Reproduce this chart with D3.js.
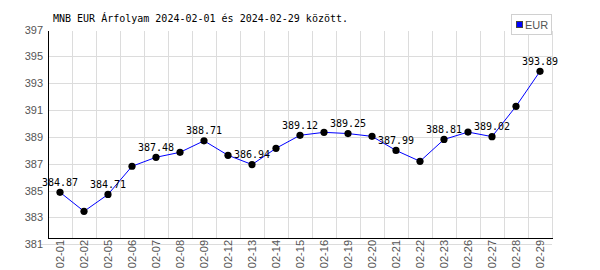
<!DOCTYPE html>
<html><head><meta charset="utf-8">
<script src="https://cdn.jsdelivr.net/npm/d3@7"></script>
<style>
html,body{margin:0;padding:0;background:#fff;}
svg{display:block;}
</style></head>
<body>
<script>
const dates = ["02-01","02-02","02-05","02-06","02-07","02-08","02-09","02-12","02-13","02-14","02-15","02-16","02-19","02-20","02-21","02-22","02-23","02-26","02-27","02-28","02-29"];
const eurValues = [384.87,383.45,384.71,386.81,387.48,387.85,388.71,387.63,386.94,388.15,389.12,389.34,389.25,389.04,387.99,387.18,388.81,389.36,389.02,391.28,393.89];
const yTicks = [381,383,385,387,389,391,393,395,397];
const titleText = "MNB EUR Árfolyam 2024-02-01 és 2024-02-29 között.";
const seriesName = "EUR";

const W = 600, H = 270;
const pLeft = 48, pRight = 552, pTop = 31, pBottom = 238;

const svg = d3.select("body").append("svg").attr("width", W).attr("height", H);

const x = d3.scaleBand().domain(dates).range([pLeft, pRight]).padding(0);
const y = d3.scaleLinear().domain([381, 397]).range([244.2, 29.6]);

// grid
const grid = svg.append("g").attr("stroke", "#dcdcdc").attr("stroke-width", 1).attr("shape-rendering", "crispEdges");
dates.forEach(d => {
  const gxp = Math.round(x(d) + x.bandwidth()) + 0.5;
  grid.append("line").attr("x1", gxp).attr("x2", gxp).attr("y1", pTop).attr("y2", pBottom);
});
yTicks.filter(t => t < 397).forEach(t => {
  const gyp = Math.round(y(t)) + 0.5;
  grid.append("line").attr("x1", t === 381 ? 40 : pLeft).attr("x2", pRight).attr("y1", gyp).attr("y2", gyp);
});

// y axis labels
const yAxis = d3.axisLeft(y).tickValues(yTicks).tickSize(0).tickPadding(5);
const gy = svg.append("g").attr("transform", `translate(${pLeft},0)`).call(yAxis);
gy.select(".domain").remove();
gy.selectAll("text").attr("font-family", "Liberation Sans, Arial, sans-serif").attr("font-size", 11).attr("fill", "#555");

// x axis labels
const xAxis = d3.axisBottom(x).tickSize(0);
const gx = svg.append("g").attr("transform", `translate(0,${pBottom})`).call(xAxis);
gx.select(".domain").remove();
gx.selectAll("text")
  .attr("font-family", "Liberation Sans, Arial, sans-serif").attr("font-size", 11).attr("fill", "#555")
  .attr("transform", "rotate(-90)")
  .attr("text-anchor", "end")
  .attr("x", -2).attr("y", 0).attr("dy", "0.35em");

// axis lines
svg.append("line").attr("x1", pLeft + 0.5).attr("x2", pLeft + 0.5).attr("y1", pTop).attr("y2", pBottom + 1).attr("stroke", "#000").attr("shape-rendering", "crispEdges");
svg.append("line").attr("x1", pLeft).attr("x2", pRight + 1).attr("y1", pBottom + 0.5).attr("y2", pBottom + 0.5).attr("stroke", "#000").attr("shape-rendering", "crispEdges");

// line
const cx = d => x(d) + x.bandwidth() / 2;
const line = d3.line().x((v, i) => cx(dates[i])).y(v => y(v));
svg.append("path").datum(eurValues).attr("d", line).attr("fill", "none").attr("stroke", "#0000ff").attr("stroke-width", 1);

// markers
svg.append("g").selectAll("circle").data(eurValues).join("circle")
  .attr("cx", (v, i) => cx(dates[i])).attr("cy", v => y(v)).attr("r", 3.6).attr("fill", "#000");

// value labels (every other point)
svg.append("g").selectAll("text").data(eurValues.map((v, i) => ({v, i})).filter(o => o.i % 2 === 0)).join("text")
  .attr("x", o => cx(dates[o.i])).attr("y", o => y(o.v) - 6.5)
  .attr("text-anchor", "middle")
  .attr("font-family", "DejaVu Sans Mono, monospace").attr("font-size", 10).attr("fill", "#000")
  .text(o => o.v.toFixed(2));

// title
svg.append("text").attr("x", 53).attr("y", 21.5)
  .attr("font-family", "DejaVu Sans Mono, monospace").attr("font-size", 10).attr("fill", "#000")
  .text(titleText);

// legend
const lg = svg.append("g");
lg.append("rect").attr("x", 511.5).attr("y", 14.5).attr("width", 40).attr("height", 20).attr("fill", "#fff").attr("stroke", "#d0d0d0");
lg.append("rect").attr("x", 516.5).attr("y", 21.5).attr("width", 6).attr("height", 6).attr("fill", "#0000ff").attr("stroke", "#444");
lg.append("text").attr("x", 525).attr("y", 28.5).attr("font-family", "Liberation Sans, Arial, sans-serif").attr("font-size", 11).attr("fill", "#555").text(seriesName);
</script>
</body></html>
